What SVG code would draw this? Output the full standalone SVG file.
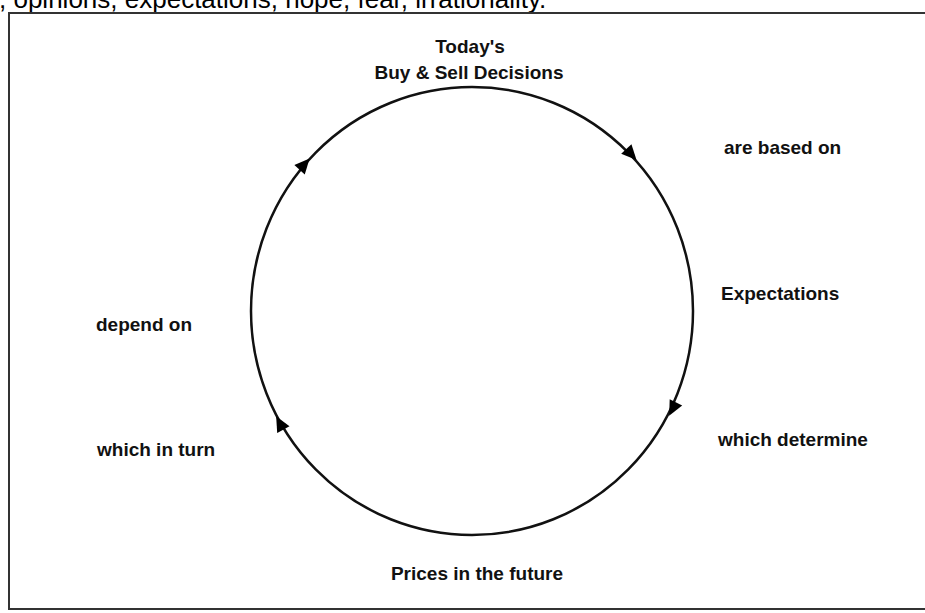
<svg xmlns="http://www.w3.org/2000/svg" width="925" height="613" viewBox="0 0 925 613">
  <style>
    .lbl { font-family: "Liberation Sans", Arial, sans-serif; font-weight: bold; font-size: 19px; fill: #111; }
    .cap { font-family: "Liberation Sans", Arial, sans-serif; font-size: 26px; fill: #000; }
    .loop { fill: none; stroke: #111; stroke-width: 2.5; }
    .frame { fill: none; stroke: #333; stroke-width: 2; }
    .head { fill: #000; }
  </style>
  <defs>
    <!-- filled arrowhead, tip at origin, pointing along +x -->
    <path id="ah" class="head" d="M3,0 L-12,-7 L-12,7 Z"/>
  </defs>
  <rect width="925" height="613" fill="#fff"/>

  <text class="cap" x="-1" y="8">, opinions, expectations, hope, fear, irrationality.</text>
  <rect class="frame" x="9" y="13" width="930" height="596"/>

  <g id="connectors">
    <ellipse class="loop" cx="472" cy="311" rx="221" ry="224"/>
    <use href="#ah" transform="translate(307.6,160.8) rotate(-48)"/>
    <use href="#ah" transform="translate(634.5,157.7) rotate(47)"/>
    <use href="#ah" transform="translate(670.5,413) rotate(117)"/>
    <use href="#ah" transform="translate(277.6,419) rotate(-118.7)"/>
  </g>

  <g id="node-decisions">
    <text class="lbl" x="470" y="53" text-anchor="middle">Today's</text>
    <text class="lbl" x="469" y="79" text-anchor="middle">Buy &amp; Sell Decisions</text>
  </g>
  <g id="label-based-on">
    <text class="lbl" x="724" y="154">are based on</text>
  </g>
  <g id="node-expectations">
    <text class="lbl" x="721" y="300">Expectations</text>
  </g>
  <g id="label-determine">
    <text class="lbl" x="718" y="446">which determine</text>
  </g>
  <g id="node-prices">
    <text class="lbl" x="477" y="580" text-anchor="middle">Prices in the future</text>
  </g>
  <g id="label-in-turn">
    <text class="lbl" x="97" y="456">which in turn</text>
  </g>
  <g id="label-depend-on">
    <text class="lbl" x="96" y="331">depend on</text>
  </g>
</svg>
